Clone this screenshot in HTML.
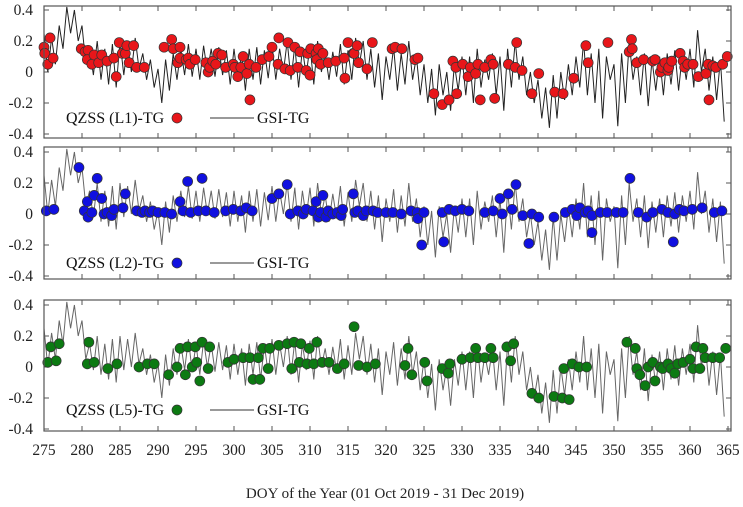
<!DOCTYPE html>
<html><head><meta charset="utf-8">
<style>
body{margin:0;background:#fff;}
svg{display:block;font-family:"Liberation Serif",serif;}
</style></head>
<body>
<svg id="chart" width="743" height="507" viewBox="0 0 743 507" xmlns="http://www.w3.org/2000/svg"></svg>
<script>
const xTicks=[275,280,285,290,295,300,305,310,315,320,325,330,335,340,345,350,355,360,365];
const yTicks=[0.4,0.2,0,-0.2,-0.4];
const yTickLabels=["0.4","0.2","0","-0.2","-0.4"];
const gsiDays=[275,276,277,278,279,280,281,282,283,284,285,286,287,288,289,290,291,292,293,294,295,296,297,298,299,300,301,302,303,304,305,306,307,308,309,310,311,312,313,314,315,316,317,318,319,320,321,322,323,324,325,326,327,328,329,330,331,332,333,334,335,336,337,338,339,340,341,342,343,344,345,346,347,348,349,350,351,352,353,354,355,356,357,358,359,360,361,362,363,364];
const gsiHigh=[0.25,0.22,0.3,0.42,0.4,0.3,0.15,0.2,0.15,0.18,0.2,0.18,0.22,0.12,0.08,0.02,0.08,0.12,0.15,0.18,0.15,0.17,0.15,0.16,0.14,0.15,0.12,0.15,0.16,0.14,0.18,0.15,0.2,0.17,0.15,0.17,0.2,0.12,0.13,0.18,0.14,0.22,0.2,0.15,0.12,0.1,0.16,0.12,0.2,0.1,0.05,0.02,0.05,0.0,0.05,0.1,0.1,0.15,0.08,0.12,0.1,0.15,0.2,0.1,0.0,-0.05,-0.1,-0.02,0.0,0.05,0.1,0.2,0.12,0.15,0.1,0.05,0.12,0.2,0.1,0.12,0.08,0.1,0.12,0.14,0.12,0.15,0.27,0.15,0.1,0.08];
const gsiLow=[0.0,0.05,0.15,0.25,0.2,0.05,-0.02,-0.05,-0.08,-0.1,-0.02,0.0,0.02,-0.05,-0.1,-0.2,-0.12,-0.05,-0.02,-0.03,-0.05,0.0,-0.03,-0.02,-0.08,-0.05,-0.12,-0.05,-0.08,-0.04,-0.05,0.0,-0.05,-0.1,-0.02,-0.08,0.0,-0.05,-0.03,-0.08,-0.05,0.05,-0.05,-0.1,-0.18,-0.05,-0.12,-0.08,-0.05,-0.15,-0.2,-0.28,-0.15,-0.25,-0.12,-0.15,-0.2,-0.1,-0.05,-0.15,-0.25,-0.1,-0.05,-0.15,-0.2,-0.3,-0.36,-0.3,-0.18,-0.15,-0.1,-0.15,-0.2,-0.3,-0.05,-0.35,-0.2,-0.05,-0.15,-0.22,-0.12,-0.15,-0.08,-0.12,-0.05,-0.1,0.0,-0.12,-0.18,-0.32];
const l1Days=[275.0,275.1,275.8,275.5,276.2,279.9,280.4,280.8,280.7,281.3,281.6,282.2,282.6,283.3,284.5,284.2,284.9,285.3,285.7,285.9,286.2,286.8,287.2,288.2,290.8,291.8,292.0,292.9,292.6,292.9,293.7,294.0,294.2,294.9,296.3,296.6,296.8,297.2,297.6,297.9,298.4,298.9,299.9,300.1,300.5,300.9,301.2,301.7,302.0,302.1,302.9,303.7,304.6,305.0,305.9,305.8,306.7,307.1,307.4,308.0,308.4,308.7,309.5,309.7,310.0,310.1,310.8,311.1,310.9,311.4,311.7,312.4,313.4,314.5,314.6,315.0,315.7,315.8,316.2,316.4,317.5,318.2,320.8,321.2,322.1,323.8,324.2,326.3,327.4,328.3,329.3,328.8,329.2,330.1,330.8,331.1,331.8,332.1,332.4,333.0,333.8,334.1,334.3,336.1,337.0,337.2,337.9,339.2,340.1,342.2,343.3,344.7,346.3,346.6,349.2,352.0,352.3,352.4,353.0,353.9,355.1,355.4,356.1,356.3,356.7,357.1,357.2,357.6,358.7,359.1,359.3,359.7,360.4,361.1,362.1,362.4,362.5,363.0,363.4,364.3,364.9];
const l1Vals=[0.16,0.12,0.22,0.05,0.09,0.15,0.13,0.14,0.08,0.05,0.11,0.06,0.11,0.07,-0.03,0.09,0.19,0.12,0.12,0.17,0.06,0.17,0.03,0.03,0.16,0.21,0.15,0.16,0.06,0.09,0.08,0.09,0.05,0.08,0.06,0.0,0.03,0.07,0.05,0.12,0.11,0.03,0.05,0.03,-0.03,0.03,0.1,-0.01,0.05,-0.18,0.03,0.08,0.1,0.16,0.22,0.05,0.02,0.19,0.01,0.16,0.03,0.13,0.01,0.12,-0.02,0.15,0.12,0.15,0.08,0.05,0.12,0.06,0.07,0.09,-0.04,0.19,0.12,0.12,0.17,0.06,0.02,0.19,0.15,0.16,0.15,0.08,0.09,-0.14,-0.21,-0.18,-0.14,0.07,0.03,0.05,-0.03,0.03,-0.01,0.05,-0.18,0.03,0.08,0.05,-0.17,0.05,0.03,0.19,0.01,-0.14,-0.01,-0.13,-0.14,-0.04,0.17,0.06,0.19,0.13,0.21,0.15,0.06,0.08,0.07,0.08,0.0,0.03,0.06,0.01,0.03,0.07,0.12,0.07,0.03,0.05,0.05,-0.03,-0.01,0.05,-0.18,0.04,0.03,0.05,0.1];
const l2Days=[275.3,276.3,279.6,280.3,280.7,280.8,281.3,281.6,282.0,282.6,282.9,283.3,283.9,284.2,285.4,285.7,287.2,287.9,288.3,288.9,289.3,290.0,290.9,291.8,292.9,293.3,293.9,294.3,295.3,295.8,296.3,297.4,298.9,299.9,300.9,301.6,302.4,305.0,305.9,307.0,307.4,308.4,309.1,309.5,310.4,310.8,311.1,311.4,311.7,312.1,312.4,313.0,313.6,314.1,314.3,315.7,315.9,316.3,317.0,317.4,318.3,318.9,320.0,320.9,322.0,323.3,324.1,324.2,325.0,324.7,327.4,327.6,328.3,329.1,330.0,330.9,333.0,334.1,335.0,335.3,336.1,336.6,337.1,338.0,338.8,339.2,340.1,342.1,343.6,344.5,345.1,345.5,346.2,346.6,347.1,347.1,348.2,349.1,350.3,351.2,352.1,353.2,354.3,355.1,356.3,357.1,357.8,358.0,358.6,359.2,360.3,361.6,363.2,364.2];
const l2Vals=[0.02,0.03,0.3,0.02,0.08,-0.02,0.01,0.12,0.23,0.1,0.0,0.01,-0.01,0.03,0.04,0.13,0.02,0.01,0.02,0.01,0.02,0.01,0.01,0.0,0.08,0.02,0.21,0.01,0.02,0.23,0.02,0.01,0.02,0.03,0.02,0.04,0.02,0.1,0.13,0.19,0.0,0.02,0.0,0.03,0.02,0.08,-0.02,0.01,0.12,-0.02,0.02,0.0,0.01,-0.01,0.03,0.13,0.01,0.02,-0.01,0.02,0.02,0.01,0.01,0.01,0.0,0.02,0.01,-0.03,0.01,-0.2,0.01,-0.18,0.03,0.02,0.03,0.02,0.01,0.02,0.1,0.0,0.13,0.03,0.19,-0.01,-0.19,0.0,-0.02,-0.02,0.01,0.03,-0.01,0.04,0.01,0.02,-0.01,-0.12,0.01,0.01,0.01,0.01,0.23,0.01,-0.02,0.01,0.03,0.01,-0.18,0.0,0.03,0.02,0.03,0.04,0.01,0.02];
const l5Days=[275.5,275.9,276.6,277.0,280.7,280.9,281.6,283.4,284.6,287.5,288.6,289.5,291.4,292.5,292.9,293.6,293.9,294.5,294.9,295.1,295.5,295.8,296.6,296.8,299.2,300.0,301.2,302.1,303.2,302.5,303.4,303.8,304.5,304.7,305.9,307.0,307.9,307.6,308.8,308.6,309.6,309.9,310.5,310.9,311.6,312.5,313.6,314.5,315.8,316.4,317.5,318.6,322.5,322.9,323.4,325.1,325.4,327.4,328.2,328.4,330.0,331.1,331.8,332.1,333.0,333.8,334.1,335.9,336.8,336.4,339.2,340.1,342.1,343.2,344.1,343.4,344.5,345.4,346.4,351.7,352.8,353.0,353.4,354.1,354.5,355.1,355.4,356.1,356.4,357.1,357.5,358.0,358.4,359.1,360.0,360.4,360.8,361.3,361.7,362.0,363.0,363.9,364.7];
const l5Vals=[0.03,0.13,0.04,0.15,0.02,0.16,0.03,-0.01,0.02,0.0,0.02,0.02,-0.05,0.0,0.12,-0.05,0.13,0.0,0.13,0.03,-0.09,0.16,-0.01,0.13,0.03,0.05,0.06,0.06,0.06,-0.08,-0.08,0.12,-0.01,0.12,0.14,0.15,0.16,-0.01,0.15,0.03,0.02,0.12,0.02,0.16,0.03,0.03,-0.01,0.02,0.26,0.01,0.0,0.02,0.01,0.12,-0.05,0.03,-0.09,-0.01,-0.04,0.02,0.05,0.06,0.12,0.06,0.06,0.12,0.06,0.13,0.15,0.04,-0.17,-0.2,-0.19,-0.2,-0.21,-0.01,0.02,0.0,0.0,0.16,0.12,-0.01,-0.05,-0.12,0.0,0.03,-0.09,0.0,-0.01,0.02,-0.01,-0.04,0.02,0.03,0.05,-0.01,0.13,-0.01,0.12,0.06,0.06,0.06,0.12];

const NS="http://www.w3.org/2000/svg";
const svg=document.getElementById('chart');
const X0=44, X1=728;
function xs(d){return X0+(d-275)*(X1-X0)/90;}
function mk(tag,attrs,parent){const e=document.createElementNS(NS,tag);for(const k in attrs)e.setAttribute(k,attrs[k]);(parent||svg).appendChild(e);return e;}

const panels=[
 {name:'l1',top:6,bot:138,zero:72,days:l1Days,vals:l1Vals,fill:'#e8161a',lineCol:'#222',label:'QZSS (L1)-TG',ly:118},
 {name:'l2',top:147,bot:279,zero:214,days:l2Days,vals:l2Vals,fill:'#1010e0',lineCol:'#666',label:'QZSS (L2)-TG',ly:263},
 {name:'l5',top:300,bot:431,zero:367,days:l5Days,vals:l5Vals,fill:'#0c7a12',lineCol:'#666',label:'QZSS (L5)-TG',ly:410}
];
panels.forEach(p=>{
  const ys=v=>p.zero-v*155;
  const g=mk('g',{});
  
  
  const clipId='clip-'+p.name;
  const cp=mk('clipPath',{id:clipId},g);
  mk('rect',{x:X0,y:p.top,width:731-X0,height:p.bot-p.top},cp);
  xTicks.forEach(t=>{
    const x=xs(t);
    const a=mk('line',{x1:x,x2:x,y1:p.top,y2:p.top+5,stroke:'#555','stroke-width':1},g);
    
    
    const b=mk('line',{x1:x,x2:x,y1:p.bot,y2:p.bot-5,stroke:'#555','stroke-width':1},g);
    
    
  });
  yTicks.forEach((t,i)=>{
    const y=ys(t);
    const a=mk('line',{x1:X0,x2:X0+5,y1:y,y2:y,stroke:'#555'},g);
    
    
    const b=mk('line',{x1:731,x2:726,y1:y,y2:y,stroke:'#555'},g);
    
    
    const tx=mk('text',{x:33,y:y+5,'text-anchor':'end','font-size':15.5,fill:'#222'},g);
    tx.textContent=yTickLabels[i];
    
    
  });
  let pts=[];
  gsiDays.forEach((d,i)=>{pts.push(xs(d)+','+ys(gsiHigh[i]));pts.push(xs(d+0.5)+','+ys(gsiLow[i]));});
  const pl=mk('polyline',{points:pts.join(' '),fill:'none',stroke:p.lineCol,'stroke-width':1,'clip-path':'url(#'+clipId+')'},g);
  
  
  p.days.forEach((d,i)=>{
    const c=mk('circle',{cx:xs(d),cy:ys(p.vals[i]),r:5,fill:p.fill,stroke:'#333','stroke-width':0.7},g);
    
    
  });
  const fr=mk('rect',{x:X0,y:p.top,width:731-X0,height:p.bot-p.top,fill:'none',stroke:'#555','stroke-width':1.2},g);
  
  
  const lg=mk('g',{},g);
  
  
  const lt=mk('text',{x:66,y:p.ly+5,'font-size':16,fill:'#111'},lg);
  lt.textContent=p.label;
  
  
  const ld=mk('circle',{cx:177,cy:p.ly,r:5,fill:p.fill,stroke:'#333','stroke-width':0.7},lg);
  
  
  const ll=mk('line',{x1:210,x2:254,y1:p.ly,y2:p.ly,stroke:'#333','stroke-width':1},lg);
  
  
  const lt2=mk('text',{x:257,y:p.ly+5,'font-size':16,fill:'#111'},lg);
  lt2.textContent='GSI-TG';
  
  
});
xTicks.forEach(t=>{
  const tx=mk('text',{x:xs(t),y:455,'text-anchor':'middle','font-size':15.5,fill:'#222'});
  tx.textContent=String(t);
  
  
});
const title=mk('text',{x:385,y:498,'text-anchor':'middle','font-size':15,fill:'#222'});
title.textContent='DOY of the Year  (01 Oct 2019 - 31 Dec 2019)';


title.setAttribute('xml:space','preserve');
</script>
</body></html>
